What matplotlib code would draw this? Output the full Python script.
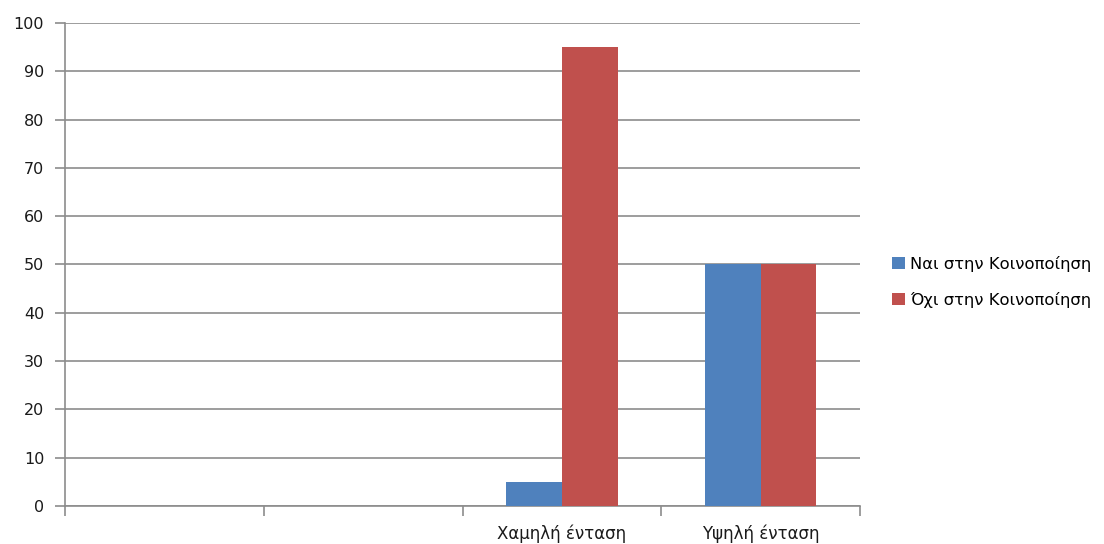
import numpy as np
import matplotlib.pyplot as plt

# Δεδομένα
categories = ["", "", "Χαμηλή ένταση", "Υψηλή ένταση"]
nai = [0, 0, 5, 50]
oxi = [0, 0, 95, 50]
series_names = ["Ναι στην Κοινοποίηση", "Όχι στην Κοινοποίηση"]
y_ticks = [0, 10, 20, 30, 40, 50, 60, 70, 80, 90, 100]

plt.rcParams["font.family"] = ["DejaVu Sans"]
grid_col = "#8c8c8c"

fig = plt.figure(figsize=(11.04, 5.44), dpi=100)
ax = fig.add_axes([0.0589, 0.0699, 0.7201, 0.8878])

x = np.arange(len(categories))
w = 0.28
ax.bar(x - w / 2, nai, w, color="#4F81BD", label=series_names[0], zorder=3)
ax.bar(x + w / 2, oxi, w, color="#C0504D", label=series_names[1], zorder=3)

ax.set_xlim(-0.5, len(categories) - 0.5)
ax.set_ylim(0, 100)
ax.set_yticks(y_ticks)
ax.yaxis.grid(True, color=grid_col, linewidth=1.2, zorder=0)

# ticks στα όρια των κατηγοριών, ετικέτες στο κέντρο
ax.set_xticks(np.arange(-0.5, len(categories), 1.0))
ax.set_xticklabels([])
ax.set_xticks(x, minor=True)
ax.set_xticklabels(categories, minor=True)
ax.tick_params(axis="x", which="major", length=7, width=1.2, color=grid_col)
ax.tick_params(axis="x", which="minor", length=0, pad=13, labelsize=12, colors="#1a1a1a")
ax.tick_params(axis="y", length=7, width=1.2, color=grid_col, labelsize=11.5,
               labelcolor="#1a1a1a", pad=8)

for side in ["top", "right"]:
    ax.spines[side].set_visible(False)
for side in ["left", "bottom"]:
    ax.spines[side].set_color(grid_col)
    ax.spines[side].set_linewidth(1.2)

fig.legend(loc="center left", bbox_to_anchor=(0.795, 0.482), frameon=False,
           fontsize=11.8, handlelength=0.75, handleheight=0.75, handletextpad=0.35,
           labelspacing=1.25)

plt.savefig("out.png")
